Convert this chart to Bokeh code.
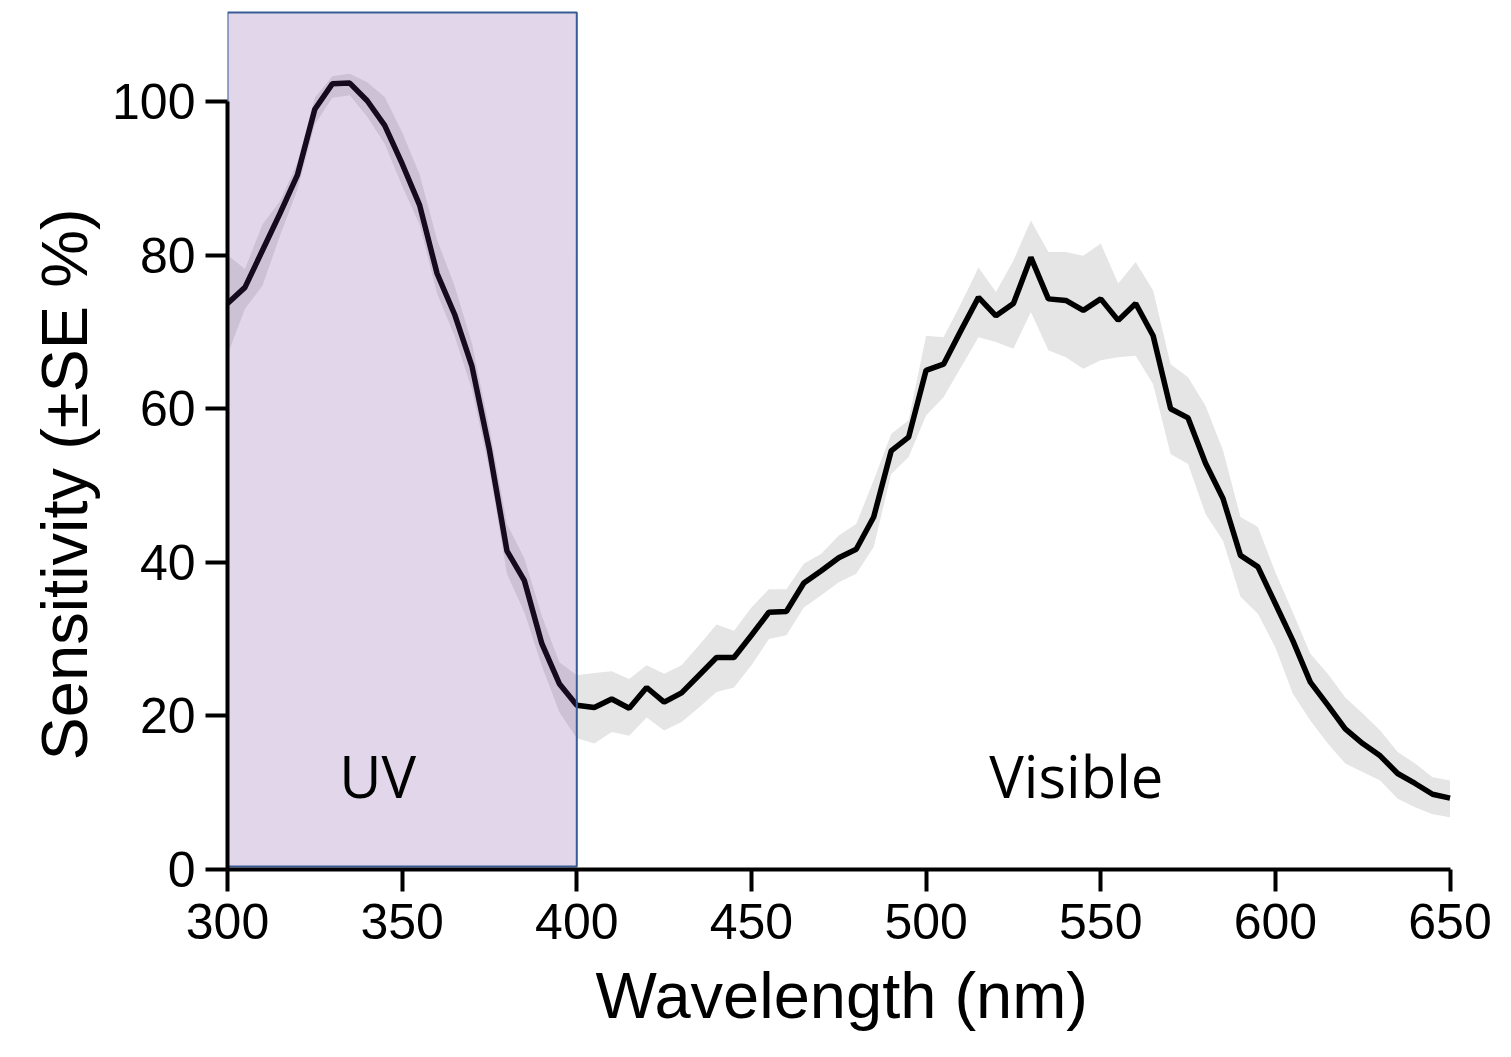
from bokeh.plotting import figure
from bokeh.models import Range1d, FixedTicker, ColumnDataSource, Title
from bokeh.core.properties import value
from bokeh.embed import file_html
from bokeh.resources import INLINE

# ---------------- data ----------------
wavelength = list(range(300, 655, 5))

sensitivity = [
    73.7, 75.8, 80.6, 85.4, 90.4, 99.0, 102.3, 102.4, 100.1, 96.9,
    91.9, 86.5, 77.6, 72.3, 65.5, 54.6, 41.5, 37.6, 29.4, 24.2,
    21.4, 21.1, 22.2, 21.0, 23.7, 21.8, 23.0, 25.3, 27.6, 27.6,
    30.5, 33.5, 33.6, 37.3, 38.9, 40.6, 41.7, 45.9, 54.5, 56.3,
    65.0, 65.8, 70.2, 74.5, 72.1, 73.7, 79.7, 74.3, 74.1, 72.8,
    74.3, 71.5, 73.7, 69.5, 60.0, 58.8, 52.9, 48.3, 40.9, 39.4,
    34.6, 29.8, 24.4, 21.4, 18.3, 16.4, 14.8, 12.5, 11.2, 9.8,
    9.3,
]

se_upper = [
    80.0, 78.2, 84.0, 87.0, 92.0, 100.5, 103.3, 103.6, 102.5, 100.6,
    96.0, 90.5, 82.0, 76.0, 68.5, 57.5, 45.0, 40.5, 33.0, 27.0,
    25.3, 25.6, 25.8, 24.8, 26.6, 25.5, 26.6, 29.2, 31.9, 31.1,
    34.1, 36.5, 36.5, 39.8, 41.1, 43.5, 45.0, 50.7, 56.7, 58.5,
    69.5, 69.3, 73.7, 78.4, 75.2, 79.3, 84.5, 80.4, 80.4, 79.9,
    81.5, 76.3, 79.1, 75.4, 65.8, 64.1, 60.4, 54.6, 45.9, 44.6,
    38.7, 33.5, 28.1, 25.5, 22.4, 20.3, 18.1, 15.3, 13.8, 12.0,
    11.6,
]

se_lower = [
    67.0, 73.0, 76.0, 82.5, 88.5, 97.0, 100.5, 100.8, 98.0, 94.5,
    89.0, 84.0, 75.0, 69.5, 62.5, 52.0, 38.5, 33.5, 26.5, 20.5,
    17.1, 16.4, 17.9, 17.4, 19.8, 18.1, 19.2, 21.1, 23.1, 23.7,
    26.6, 30.0, 30.5, 34.1, 35.7, 37.4, 38.5, 42.0, 51.5, 53.7,
    59.1, 61.5, 65.4, 69.3, 68.7, 67.8, 72.6, 67.6, 66.7, 65.2,
    66.3, 66.7, 66.9, 63.2, 54.1, 52.8, 46.3, 42.8, 35.5, 33.3,
    28.9, 22.9, 19.4, 16.4, 13.8, 12.7, 11.6, 9.2, 8.1, 7.2,
    6.8,
]

x_ticks = [300, 350, 400, 450, 500, 550, 600, 650]
y_ticks = [0, 20, 40, 60, 80, 100]

uv_region = [300, 400]          # nm span of the UV box
uv_box_bottom = 0.4
uv_box_top = 111.6

region_labels = ["UV", "Visible"]
region_label_x = [343, 543]
region_label_y = [12.2, 12.2]

x_title = "Wavelength (nm)"
y_title = "Sensitivity (±SE %)"

# ---------------- figure ----------------
p = figure(
    width=1503, height=1049,
    x_range=Range1d(300, 655), y_range=Range1d(0, 111.85),
    output_backend="svg", toolbar_location=None,
    min_border_left=227, min_border_right=36,
    min_border_top=10, min_border_bottom=180,
)
p.background_fill_color = "white"
p.border_fill_color = "white"
p.outline_line_color = None
p.xgrid.visible = False
p.ygrid.visible = False

src = ColumnDataSource(dict(x=wavelength, y=sensitivity, lo=se_lower, hi=se_upper))

p.varea(x="x", y1="lo", y2="hi", source=src, fill_color="#e5e5e5", fill_alpha=1.0)
p.line(x="x", y="y", source=src, line_color="black", line_width=5.5)

p.quad(left=[uv_region[0]], right=[uv_region[1]], bottom=[uv_box_bottom], top=[uv_box_top],
       fill_color="#693296", fill_alpha=0.2, line_color="#3a5a98", line_width=2)

p.text(x=region_label_x, y=region_label_y, text=region_labels,
       text_font=value("Open Sans"), text_font_size="58px",
       text_align="center", text_baseline="alphabetic", text_color="black")

for ax in (p.xaxis[0], p.yaxis[0]):
    ax.axis_line_width = 4
    ax.axis_line_color = "black"
    ax.major_tick_line_width = 4
    ax.major_tick_line_color = "black"
    ax.major_tick_out = 22
    ax.major_tick_in = 0
    ax.minor_tick_line_color = None
    ax.major_label_text_font = "Liberation Sans"
    ax.major_label_text_font_size = "50px"
    ax.major_label_text_color = "black"

p.xaxis[0].ticker = FixedTicker(ticks=x_ticks)
p.yaxis[0].ticker = FixedTicker(ticks=y_ticks)
p.xaxis[0].bounds = (300, 650)
p.yaxis[0].bounds = (0, 100)
p.xaxis[0].major_label_standoff = 12
p.yaxis[0].major_label_standoff = 10

# axis titles, placed along the axis spans (not centred on the frame)
p.add_layout(Title(text=x_title, align="left", offset=368, standoff=31,
                   text_font="Liberation Sans", text_font_size="65px",
                   text_font_style="normal", text_color="black"), "below")
p.add_layout(Title(text=y_title, align="left", offset=109, standoff=18,
                   text_font="Liberation Sans", text_font_size="65px",
                   text_font_style="normal", text_color="black"), "left")

open("out.html", "w").write(file_html(p, INLINE))
